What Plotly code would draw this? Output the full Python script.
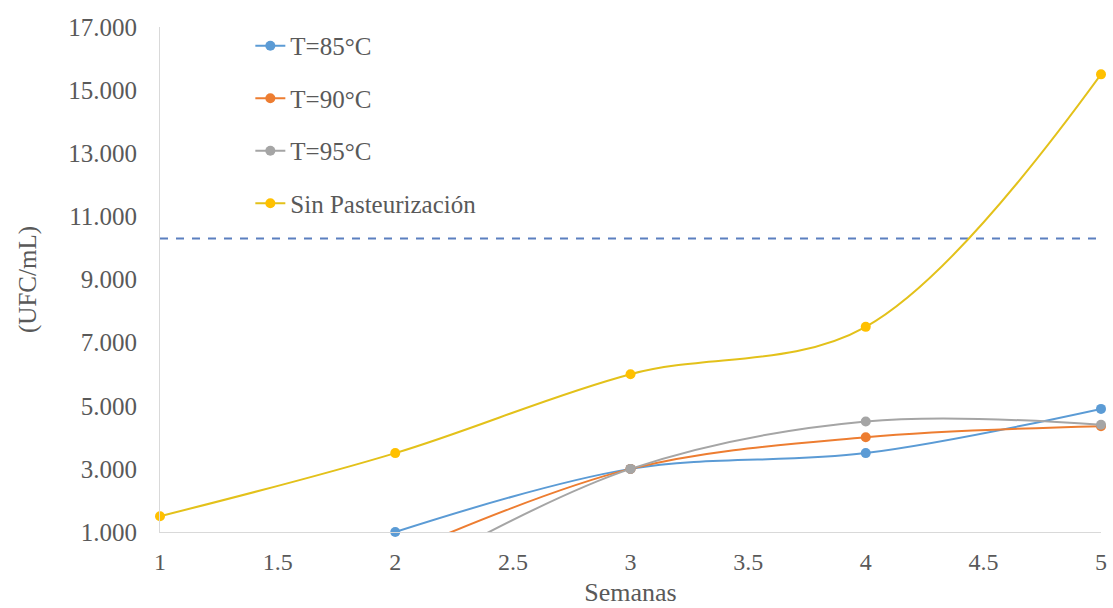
import plotly.graph_objects as go

# Weekly microbial counts (UFC/mL) per treatment
semanas = [1, 2, 3, 4, 5]
t85 = [None, 1000, 3000, 3500, 4900]
t90 = [None, 250, 3000, 4000, 4350]
t95 = [None, -600, 3000, 4500, 4400]
sin_past = [1500, 3500, 6000, 7500, 15500]
limite = 10300

y_ticks = [1000, 3000, 5000, 7000, 9000, 11000, 13000, 15000, 17000]
y_labels = ["1.000", "3.000", "5.000", "7.000", "9.000", "11.000", "13.000", "15.000", "17.000"]
x_ticks = [1, 1.5, 2, 2.5, 3, 3.5, 4, 4.5, 5]
x_labels = ["1", "1.5", "2", "2.5", "3", "3.5", "4", "4.5", "5"]

series = [
    ("T=85°C", t85, "#5B9BD5", "#5B9BD5"),
    ("T=90°C", t90, "#ED7D31", "#ED7D31"),
    ("T=95°C", t95, "#A5A5A5", "#A5A5A5"),
    ("Sin Pasteurización", sin_past, "#E3C11A", "#FFC000"),
]

font_family = "Liberation Serif, Times New Roman, serif"
text_color = "#595959"

fig = go.Figure()

# Reference limit line
fig.add_trace(go.Scatter(
    x=[semanas[0], semanas[-1]], y=[limite, limite],
    mode="lines", line=dict(color="#5B7FBF", width=2, dash="8px,8px"),
    showlegend=False, hoverinfo="skip",
))

for name, vals, lcol, mcol in series:
    fig.add_trace(go.Scatter(
        x=semanas, y=vals, name=name, legendgroup=name,
        mode="lines+markers",
        line=dict(color=lcol, width=2, shape="spline", smoothing=1),
        marker=dict(color=mcol, size=10),
        connectgaps=False, cliponaxis=False,
    ))

fig.update_layout(
    width=1113, height=608,
    margin=dict(l=160, r=6, t=27, b=76),
    paper_bgcolor="white", plot_bgcolor="white",
    font=dict(family=font_family, size=22, color=text_color),
    legend=dict(
        x=0.096, y=1.008, xanchor="left", yanchor="top",
        bgcolor="rgba(0,0,0,0)", tracegroupgap=17,
        font=dict(family=font_family, size=25, color=text_color),
    ),
    xaxis=dict(
        range=[1, 5], tickvals=x_ticks, ticktext=x_labels,
        showgrid=False, zeroline=False, showline=True,
        linecolor="#D9D9D9", linewidth=1, ticks="", ticklabelstandoff=8,
        tickfont=dict(size=24),
        title=dict(text="Semanas", standoff=9, font=dict(size=26)),
    ),
    yaxis=dict(
        range=[1000, 17000], tickvals=y_ticks, ticktext=y_labels,
        showgrid=False, zeroline=False, showline=True,
        linecolor="#D9D9D9", linewidth=1, ticks="", ticklabelstandoff=17,
        tickfont=dict(size=25),
        title=dict(text="(UFC/mL)", standoff=24, font=dict(size=25)),
    ),
)

fig.write_html("out.html")
